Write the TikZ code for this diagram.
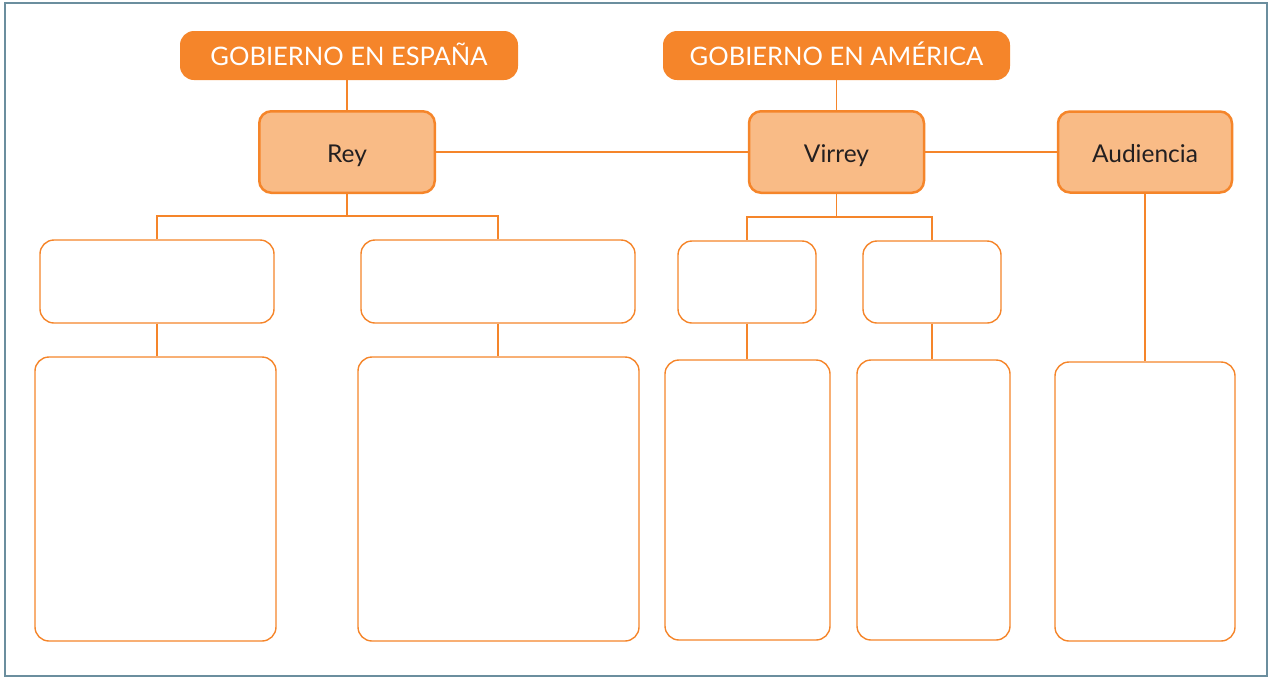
\documentclass[tikz,border=0pt]{standalone}
\usepackage{fontspec}
\setmainfont{Lato}
\definecolor{orangeM}{HTML}{F5852A}
\definecolor{orangeL}{HTML}{F9BB86}
\definecolor{textD}{HTML}{231F20}
\definecolor{frameC}{HTML}{6B8E9E}
\begin{document}
\begin{tikzpicture}[x=1pt,y=-1pt,
  head/.style={fill=orangeM, draw=none, rounded corners=14pt, text=white, inner sep=0pt,
    text height=19pt, text depth=0pt, font=\fontsize{25.5}{28}\selectfont},
  mainbox/.style={fill=orangeL, draw=orangeM, line width=2.5pt, rounded corners=12pt,
    text=textD, inner sep=0pt, text height=21pt, text depth=0pt, font=\fontsize{24.5}{28}\selectfont},
  emptybox/.style={draw=orangeM, line width=1.4pt, rounded corners=14pt, fill=white, inner sep=0pt},
  conn/.style={draw=orangeM, line width=1.4pt}]
\useasboundingbox (0,0) rectangle (1270,678);
\draw[frameC, line width=2.5pt] (5,3) rectangle (1267,676);

\node[head, minimum width=338pt, minimum height=49pt] (h1) at (349,55.5) {GOBIERNO EN ESPAÑA};
\node[head, minimum width=347pt, minimum height=49pt] (h2) at (836.5,55.5) {GOBIERNO EN AMÉRICA};

\node[mainbox, minimum width=175.5pt, minimum height=81.5pt] (rey) at (347,152) {Rey};
\node[mainbox, minimum width=175pt, minimum height=81.5pt] (virrey) at (836.5,152) {Virrey};
\node[mainbox, minimum width=174pt, minimum height=81pt] (aud) at (1145,152) {Audiencia};

\node[emptybox, minimum width=234pt, minimum height=83pt] (b1) at (157,281.5) {};
\node[emptybox, minimum width=274pt, minimum height=83pt] (b2) at (498,281.5) {};
\node[emptybox, minimum width=241pt, minimum height=284pt] (b3) at (155.5,499) {};
\node[emptybox, minimum width=281pt, minimum height=284pt] (b4) at (498.5,499) {};

\node[emptybox, minimum width=138pt, minimum height=82pt] (v1) at (747,282) {};
\node[emptybox, minimum width=138pt, minimum height=82pt] (v2) at (932,282) {};
\node[emptybox, minimum width=165pt, minimum height=280pt] (v3) at (747.5,500) {};
\node[emptybox, minimum width=153pt, minimum height=280pt] (v4) at (933.5,500) {};

\node[emptybox, minimum width=180pt, minimum height=279pt] (a3) at (1145,501.5) {};

% connectors
\draw[conn] (rey.north) -- (rey.north |- h1.south);
\draw[conn] (virrey.north) -- (virrey.north |- h2.south);
\draw[conn] (rey.east) -- (virrey.west);
\draw[conn] (virrey.east) -- (aud.west);

\coordinate (rj) at (347,216);
\draw[conn] (rey.south) -- (rj);
\draw[conn] (b1.north) |- (rj);
\draw[conn] (b2.north) |- (rj);
\draw[conn] (b1.south) -- (b1.south |- b3.north);
\draw[conn] (b2.south) -- (b2.south |- b4.north);

\coordinate (vj) at (836.5,217);
\draw[conn] (virrey.south) -- (vj);
\draw[conn] (v1.north) |- (vj);
\draw[conn] (v2.north) |- (vj);
\draw[conn] (v1.south) -- (v1.south |- v3.north);
\draw[conn] (v2.south) -- (v2.south |- v4.north);

\draw[conn] (aud.south) -- (aud.south |- a3.north);
\end{tikzpicture}
\end{document}
